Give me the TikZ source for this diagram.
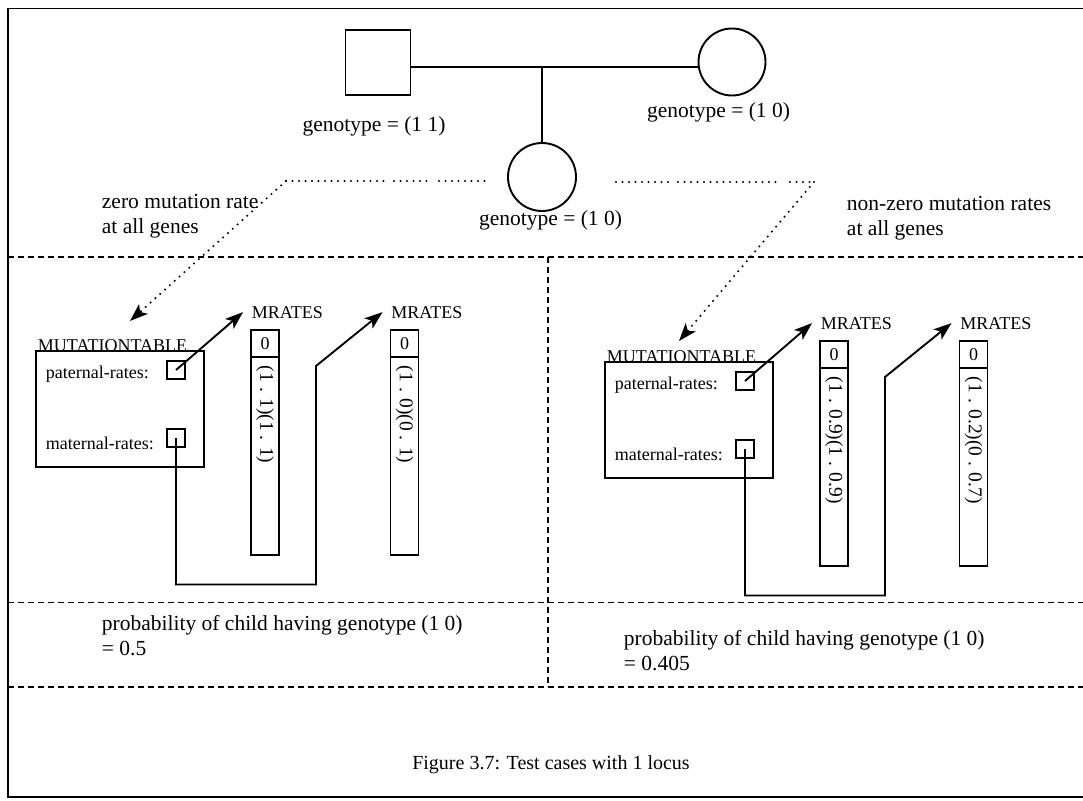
\documentclass[tikz,border=0pt]{standalone}
\usepackage{fontspec}
\setmainfont{Liberation Serif}
\usetikzlibrary{arrows.meta}

\begin{document}
\begin{tikzpicture}[x=1pt,y=-1pt,line width=1.9pt,
  ptr/.style={-{Stealth[length=18pt,width=13pt,inset=4.5pt]}},
  sep/.style={line width=1.7pt,dash pattern=on 6pt off 4pt},
  dots/.style={line width=2.3pt,dash pattern=on 0pt off 6.5pt,line cap=round},
  big/.style={font=\fontsize{21.5}{25}\selectfont,inner sep=0pt},
  small/.style={font=\fontsize{18}{21}\selectfont,inner sep=0pt},
  tiny/.style={font=\fontsize{19.5}{22}\selectfont,inner sep=0pt},
  cell/.style={draw,minimum size=18pt,inner sep=0pt}]
\useasboundingbox (0,0) rectangle (1083,800);

% frame and the dashed cells
\draw (1083,8.5) -- (8,8.5) -- (8,797) -- (1083,797);
\foreach \y in {257,602.5,687}{ \draw[sep] (8,\y) -- (1083,\y); }
\draw[sep] (548,257) -- (548,687);

% pedigree
\node[draw,minimum size=65pt,inner sep=0pt] (father) at (378,62.5) {};
\node[draw,circle,minimum size=67pt,inner sep=0pt] (mother) at (732,62) {};
\node[draw,circle,minimum size=68pt,inner sep=0pt] (child) at (542,177) {};
\coordinate (mate) at (542,67);
\draw (father.east |- mate) -- (mother.west |- mate);
\draw (mate) -- (child);
\node[big,anchor=base] (fatherlab) at (374,131) {genotype = (1 1)};
\node[big,anchor=base] (motherlab) at (718.5,117) {genotype = (1 0)};
\node[big,anchor=base] (childlab) at (550.5,225) {genotype = (1 0)};

% the two cases (base = last line)
\node[big,anchor=base west,align=left] (zerolab) at (101,233) {zero mutation rate\\at all genes};
\node[big,anchor=base west,align=left] (nonzerolab) at (846,235) {non-zero mutation rates\\at all genes};
\foreach \a/\b in {286/386,394/432,439/486}{ \draw[dots] (\a,181) -- (\b,181); }
\foreach \a/\b in {616/669,678/778,790/814}{ \draw[dots] (\a,182) -- (\b,182); }
\coordinate (leadl) at (286,181);
\coordinate (aiml) at (130,321);
\coordinate (leadr) at (814,182);
\coordinate (aimr) at (679,341);
\draw[dots,ptr] (leadl) -- (aiml);
\draw[dots,ptr] (leadr) -- (aimr);

\foreach \dx/\dy/\p/\ra/\rb in {0/0/l/{(1 . 1)(1 . 1)}/{(1 . 0)(0 . 1)},569/11/r/{(1 . 0.9)(1 . 0.9)}/{(1 . 0.2)(0 . 0.7)}}{
\begin{scope}[shift={(\dx,\dy)}]
  \node[draw,minimum width=168pt,minimum height=116pt,inner sep=0pt] (tab\p) at (120,409) {};
  \node[small,anchor=base west] (tabname\p) at (37,351) {MUTATIONTABLE};
  \node[small,anchor=base west] (patlab\p) at (45,378) {paternal-rates:};
  \node[small,anchor=base west] (matlab\p) at (45,449) {maternal-rates:};
  \node[cell] (pat\p) at (176,370) {};
  \node[cell] (mat\p) at (176,438) {};
  \foreach \c/\x/\r in {a/265/\ra,b/404.5/\rb}{
    \node[small,anchor=base west,inner xsep=8pt] (mr\c\p) at (\x-22,318) {MRATES};
    \node[draw,minimum width=28pt,minimum height=225pt,inner sep=0pt] (col\c\p) at (\x,442.5) {};
    \draw[line width=2.6pt] (col\c\p.north west) ++(0,28) -- ++(28,0);
    \node[small] (zero\c\p) at (\x,344) {0};
    \node[tiny,rotate=-90,anchor=west] (val\c\p) at (\x,365) {\r};
  }
  \coordinate (low\p) at (316,584.5);
  \coordinate (up\p) at (316,366);
  \draw[ptr] (pat\p.center) -- (mra\p.west);
  \draw[ptr] (mat\p.center) |- (low\p) -- (up\p) -- (mrb\p.west);
\end{scope}
}

% results (base = last line)
\node[big,anchor=base west,align=left] (probl) at (101,655) {probability of child having genotype (1 0)\\= 0.5};
\node[big,anchor=base west,align=left] (probr) at (623,670) {probability of child having genotype (1 0)\\= 0.405};
\node[font=\fontsize{20}{24}\selectfont,anchor=base] (caption) at (551,769) {Figure 3.7: Test cases with 1 locus};
\end{tikzpicture}
\end{document}
